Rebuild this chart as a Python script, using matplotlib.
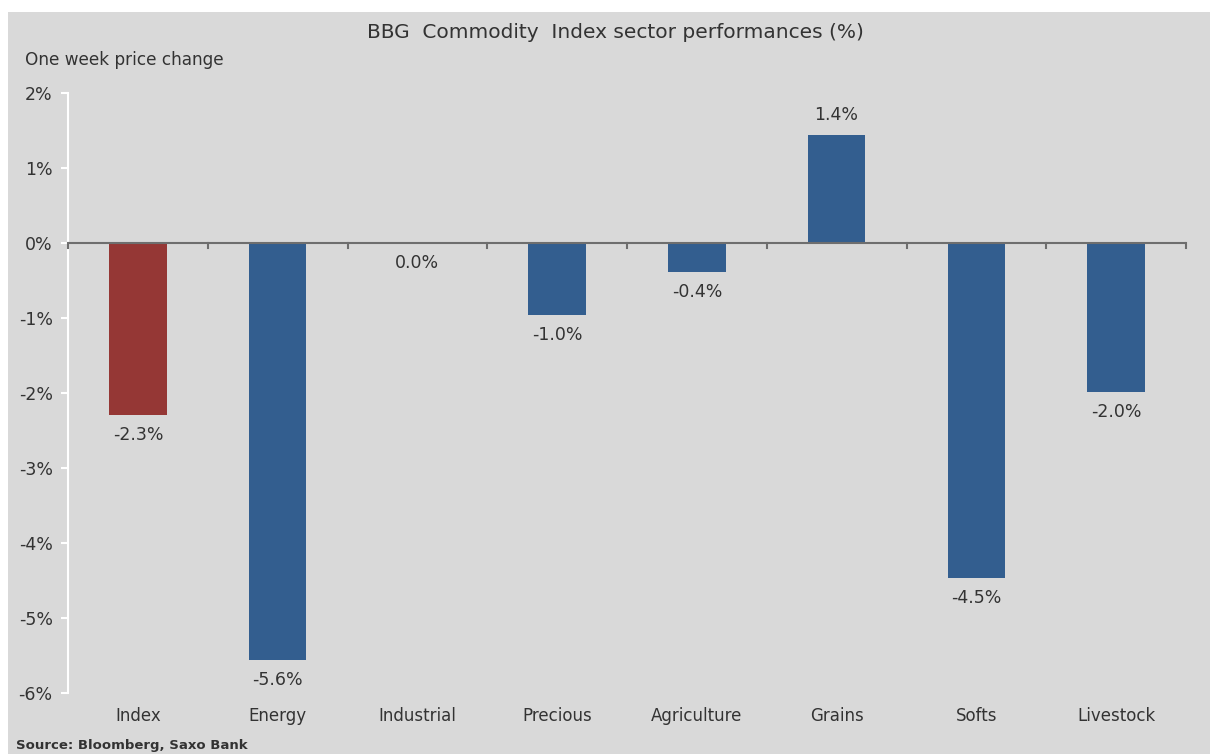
import numpy as np
import matplotlib
matplotlib.use('Agg')
import matplotlib.pyplot as plt
from matplotlib.patches import Rectangle

#-------------------------------------------------------------------------
categories = ['Index', 'Energy', 'Industrial', 'Precious', 'Agriculture',
              'Grains', 'Softs', 'Livestock']
changes = [-2.29, -5.56, 0.0, -0.96, -0.39, 1.44, -4.47, -1.99]
yticks = [2, 1, 0, -1, -2, -3, -4, -5, -6]

title = 'BBG  Commodity  Index sector performances (%)'
ylabel = 'One week price change'
source = 'Source: Bloomberg, Saxo Bank'

bg = '#d9d9d9'
red = '#953735'
blue = '#335e8f'
txt = '#333333'

plt.rcParams['font.family'] = ['DejaVu Sans']

#-------------------------------------------------------------------------
fig = plt.figure(figsize=(12.1, 7.54), dpi=100)
fig.patches.append(Rectangle((8/1210, 0), 1, (754-12)/754, transform=fig.transFigure,
                             facecolor=bg, edgecolor='none', zorder=-10))

ax = fig.add_axes([68/1210, 61/754, 1118/1210, 600/754])
ax.set_facecolor(bg)
ax.patch.set_alpha(0)

x = np.arange(len(categories))
colors = [red] + [blue]*(len(categories)-1)
ax.bar(x, changes, width=0.41, color=colors, zorder=2)

for i, v in enumerate(changes):
  lab = '%.1f%%' % v
  if v > 0:
    ax.annotate(lab, (i, v), xytext=(0, 8), textcoords='offset points',
                ha='center', va='bottom', fontsize=12.5, color=txt)
  else:
    ax.annotate(lab, (i, v), xytext=(0, -8), textcoords='offset points',
                ha='center', va='top', fontsize=12.5, color=txt)

ax.set_xlim(-0.5, len(categories)-0.5)
ax.set_ylim(-6, 2)

ax.set_yticks(yticks)
ax.set_yticklabels(['%d%%' % t for t in yticks], fontsize=12.5, color=txt)
ax.tick_params(axis='y', length=5, color='white', width=1.5, pad=6)

ax.set_xticks([])
for side in ['top', 'right', 'bottom']:
  ax.spines[side].set_visible(False)
ax.spines['left'].set_color('white')
ax.spines['left'].set_linewidth(1.5)

# zero line with category boundary ticks
ax.axhline(0, color='#6e6e6e', lw=1.5, zorder=3)
for b in np.arange(len(categories)+1) - 0.5:
  ax.plot([b, b], [0, -0.07], color='#6e6e6e', lw=1.5, zorder=3, clip_on=False)

for i, c in enumerate(categories):
  ax.text(i, -6.31, c, ha='center', va='center', fontsize=12, color=txt)

fig.text(615/1210, 1 - 33/754, title, ha='center', va='center', fontsize=14.5, color=txt)
fig.text(25/1210, 1 - 60/754, ylabel, ha='left', va='center', fontsize=12.2, color=txt)
fig.text(16/1210, 1 - 745/754, source, ha='left', va='center', fontsize=9.5,
         color=txt, fontweight='bold')

fig.savefig('out.png', dpi=100)
